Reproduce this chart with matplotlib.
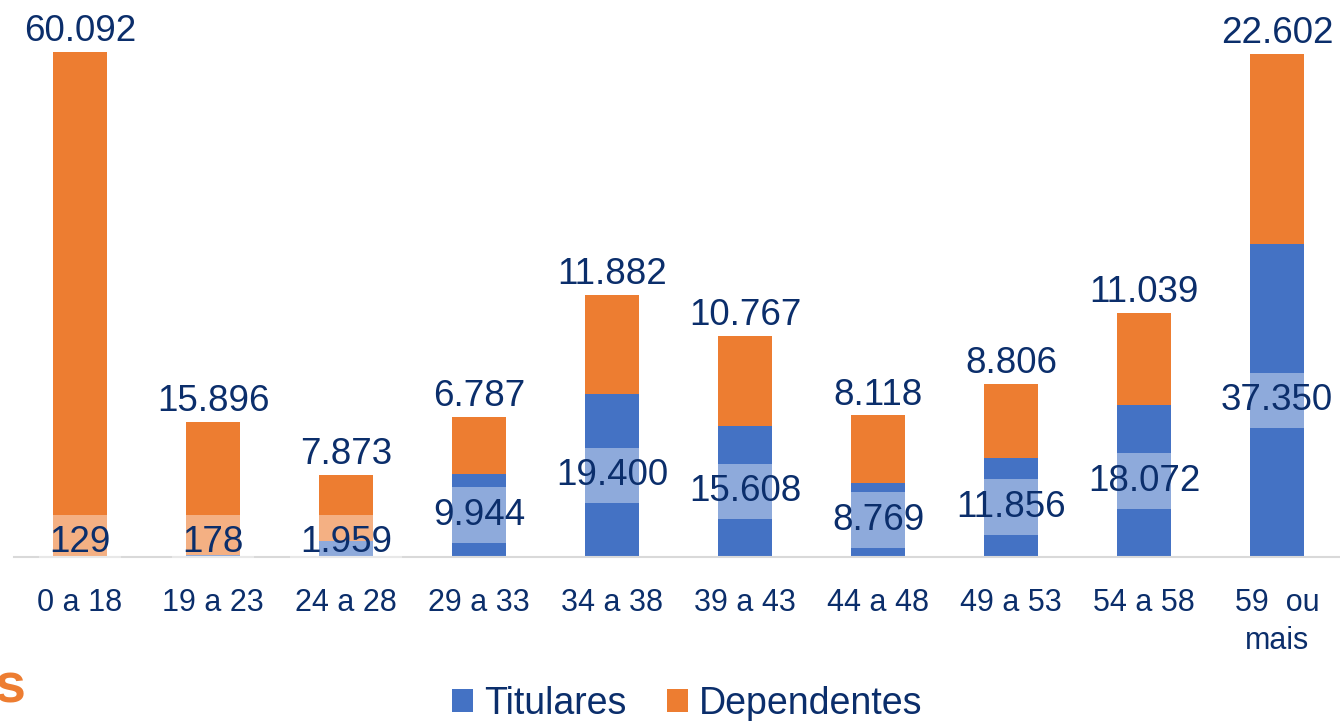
import matplotlib
matplotlib.use('Agg')
import matplotlib.pyplot as plt
import numpy as np

plt.rcParams['font.family'] = ['Liberation Sans', 'DejaVu Sans']

faixas = ['0 a 18', '19 a 23', '24 a 28', '29 a 33', '34 a 38', '39 a 43',
          '44 a 48', '49 a 53', '54 a 58', '59  ou\nmais']
titulares = [129, 178, 1959, 9944, 19400, 15608, 8769, 11856, 18072, 37350]
dependentes = [60092, 15896, 7873, 6787, 11882, 10767, 8118, 8806, 11039, 22602]

azul = '#4472C4'
laranja = '#ED7D31'
texto = '#0B2E6B'


def fmt(v):
    return f'{v:,}'.replace(',', '.')


def main():
    fig = plt.figure(figsize=(13.4, 7.21), dpi=100)
    ax = fig.add_axes([13.5 / 1340, 0.2275, 1330 / 1340, 0.7725])

    x = np.arange(len(faixas))
    tit = np.array(titulares)
    dep = np.array(dependentes)

    ax.bar(x, tit, 0.4, color=azul, label='Titulares', zorder=2)
    ax.bar(x, dep, 0.4, bottom=tit, color=laranja, label='Dependentes', zorder=2)

    # rotulos dos titulares no meio do segmento azul
    for xi, v in zip(x, tit):
        ax.text(xi, max(v / 2, 1700), fmt(v), ha='center', va='center',
                fontsize=26.5, color=texto, zorder=4,
                bbox=dict(boxstyle='square,pad=0.28', fc='white', ec='none', alpha=0.4))

    # rotulos dos dependentes no topo
    for xi, t, d in zip(x, tit, dep):
        ax.annotate(fmt(d), (xi, t + d), xytext=(0, 2), textcoords='offset points',
                    ha='center', va='bottom', fontsize=26.5, color=texto, zorder=4)

    ax.set_xlim(-0.5, len(faixas) - 0.5)
    ax.set_ylim(0, 66420)
    ax.set_xticks(x)
    ax.set_xticklabels(faixas, fontsize=22, color=texto, linespacing=1.35)
    ax.tick_params(axis='x', length=0, pad=22)
    ax.set_yticks([])
    for s in ['top', 'right', 'left']:
        ax.spines[s].set_visible(False)
    ax.spines['bottom'].set_color('#D9D9D9')
    ax.spines['bottom'].set_linewidth(1.5)
    ax.spines['bottom'].set_zorder(3)

    fig.legend(loc='center', bbox_to_anchor=(0.513, 0.024), ncol=2, frameon=False,
               fontsize=27, handlelength=0.55, handleheight=0.55, handletextpad=0.3,
               columnspacing=1.1, labelcolor=texto)

    fig.text(-6 / 1340, 0.026, 's', ha='left', va='baseline', fontsize=40,
             fontweight='bold', color=laranja)

    fig.savefig('out.png', dpi=100)


if __name__ == '__main__':
    main()
